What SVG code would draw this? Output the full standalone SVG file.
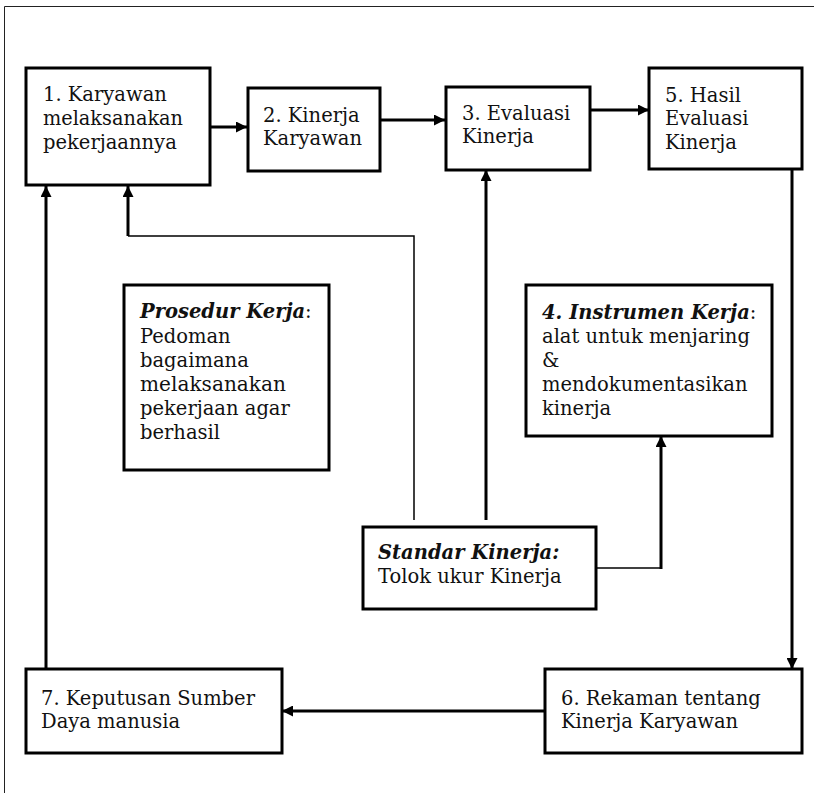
<svg xmlns="http://www.w3.org/2000/svg" width="814" height="793" viewBox="0 0 814 793">
  <style>
    .box { fill: #ffffff; stroke: #000000; stroke-width: 3; }
    .txt { font-family: "DejaVu Serif", "Liberation Serif", serif; font-size: 19.5px; fill: #111111; }
    .bi { font-weight: bold; font-style: italic; }
    .thick { fill: none; stroke: #000000; stroke-width: 3; }
    .thin { fill: none; stroke: #000000; stroke-width: 1.5; }
    .frame { fill: none; stroke: #222222; stroke-width: 1; }
  </style>
  <defs>
    <marker id="arrow" viewBox="0 0 10 10" refX="10" refY="5" markerWidth="11" markerHeight="11" markerUnits="userSpaceOnUse" orient="auto">
      <path d="M0,0 L10,5 L0,10 z" fill="#000000"/>
    </marker>
  </defs>

  <rect x="0" y="0" width="814" height="793" fill="#ffffff"/>
  <!-- page frame (top and left edges) -->
  <path class="frame" d="M4.5,793 V6.5 H814"/>

  <!-- connectors -->
  <g id="connectors">
    <line class="thick" x1="210" y1="127" x2="247" y2="127" marker-end="url(#arrow)"/>
    <line class="thick" x1="380" y1="120" x2="445" y2="120" marker-end="url(#arrow)"/>
    <line class="thick" x1="590" y1="110" x2="649" y2="110" marker-end="url(#arrow)"/>
    <line class="thick" x1="792" y1="169" x2="792" y2="669" marker-end="url(#arrow)"/>
    <line class="thick" x1="545" y1="711" x2="282" y2="711" marker-end="url(#arrow)"/>
    <line class="thick" x1="46" y1="669" x2="46" y2="186" marker-end="url(#arrow)"/>
    <!-- Standar Kinerja feeds -->
    <path class="thin" d="M414,520 V236 H128"/>
    <line class="thick" x1="128" y1="236" x2="128" y2="186" marker-end="url(#arrow)"/>
    <line class="thick" x1="486" y1="520" x2="486" y2="170" marker-end="url(#arrow)"/>
    <line class="thin" x1="596" y1="568" x2="661" y2="568"/>
    <line class="thick" x1="661" y1="569" x2="661" y2="436" marker-end="url(#arrow)"/>
  </g>

  <g id="node1">
    <rect class="box" x="26" y="68" width="184" height="117"/>
    <text class="txt" x="43" y="101">1. Karyawan</text>
    <text class="txt" x="43" y="125" textLength="140" lengthAdjust="spacingAndGlyphs">melaksanakan</text>
    <text class="txt" x="43" y="149">pekerjaannya</text>
  </g>

  <g id="node2">
    <rect class="box" x="248" y="88" width="132" height="83"/>
    <text class="txt" x="263" y="122">2. Kinerja</text>
    <text class="txt" x="263" y="145">Karyawan</text>
  </g>

  <g id="node3">
    <rect class="box" x="446" y="87" width="144" height="83"/>
    <text class="txt" x="462" y="120">3. Evaluasi</text>
    <text class="txt" x="462" y="143">Kinerja</text>
  </g>

  <g id="node5">
    <rect class="box" x="649" y="68" width="153" height="101"/>
    <text class="txt" x="665" y="102">5. Hasil</text>
    <text class="txt" x="665" y="125">Evaluasi</text>
    <text class="txt" x="665" y="149">Kinerja</text>
  </g>

  <g id="prosedur">
    <rect class="box" x="124" y="285" width="205" height="185"/>
    <text class="txt" x="140" y="318"><tspan class="bi">Prosedur Kerja</tspan>:</text>
    <text class="txt" x="140" y="343">Pedoman</text>
    <text class="txt" x="140" y="367">bagaimana</text>
    <text class="txt" x="140" y="391" textLength="146" lengthAdjust="spacingAndGlyphs">melaksanakan</text>
    <text class="txt" x="140" y="415">pekerjaan agar</text>
    <text class="txt" x="140" y="439">berhasil</text>
  </g>

  <g id="node4">
    <rect class="box" x="526" y="285" width="246" height="151"/>
    <text class="txt" x="542" y="319"><tspan class="bi">4. Instrumen Kerja</tspan>:</text>
    <text class="txt" x="542" y="343">alat untuk menjaring</text>
    <text class="txt" x="542" y="367">&amp;</text>
    <text class="txt" x="542" y="391">mendokumentasikan</text>
    <text class="txt" x="542" y="415">kinerja</text>
  </g>

  <g id="standar">
    <rect class="box" x="363" y="527" width="233" height="82"/>
    <text class="txt bi" x="378" y="559">Standar Kinerja:</text>
    <text class="txt" x="378" y="583">Tolok ukur Kinerja</text>
  </g>

  <g id="node6">
    <rect class="box" x="545" y="669" width="257" height="84"/>
    <text class="txt" x="561" y="705">6. Rekaman tentang</text>
    <text class="txt" x="561" y="728">Kinerja Karyawan</text>
  </g>

  <g id="node7">
    <rect class="box" x="26" y="669" width="256" height="84"/>
    <text class="txt" x="41" y="705">7. Keputusan Sumber</text>
    <text class="txt" x="41" y="728">Daya manusia</text>
  </g>
</svg>
